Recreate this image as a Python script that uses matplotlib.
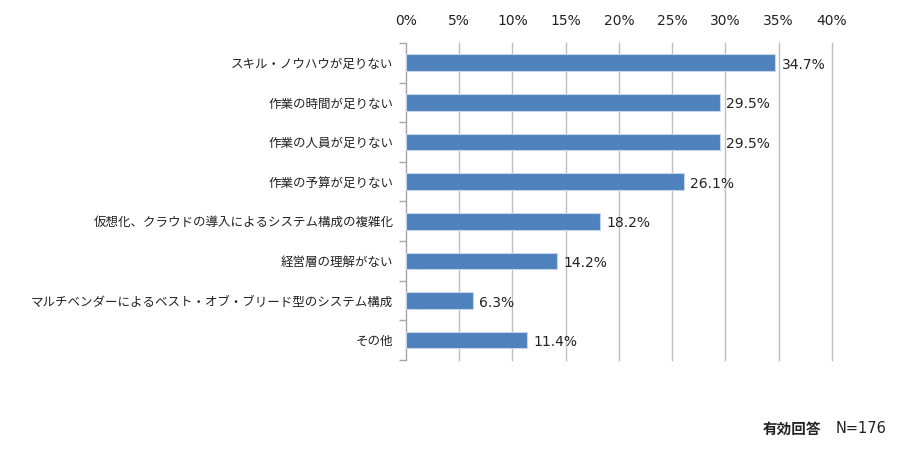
import numpy as np
import matplotlib
matplotlib.use("Agg")
import matplotlib.pyplot as plt
from matplotlib.ticker import FixedLocator, FuncFormatter

plt.rcParams["font.family"] = ["DejaVu Sans", "Noto Sans CJK JP"]

# ── データ ────────────────────────────────────────────
categories = [
    "スキル・ノウハウが足りない",
    "作業の時間が足りない",
    "作業の人員が足りない",
    "作業の予算が足りない",
    "仮想化、クラウドの導入によるシステム構成の複雑化",
    "経営層の理解がない",
    "マルチベンダーによるベスト・オブ・ブリード型のシステム構成",
    "その他",
]
values = [34.7, 29.5, 29.5, 26.1, 18.2, 14.2, 6.3, 11.4]
x_ticks = [0, 5, 10, 15, 20, 25, 30, 35, 40]

BAR_COLOR = "#4F81BD"
GRID_COLOR = "#BFBFBF"
JP = ["Noto Sans CJK JP", "DejaVu Sans"]

fig = plt.figure(figsize=(9, 4.51), dpi=100)
ax = fig.add_axes([0.451, 0.2018, 0.4733, 0.7029])

y = np.arange(len(categories))
ax.barh(y, values, height=0.42, color=BAR_COLOR, edgecolor="#C6D5EA",
        linewidth=0.8, zorder=3)

# 値ラベル
for yi, v in zip(y, values):
    ax.text(v + 0.6, yi + 0.05, f"{v:.1f}%", va="center", ha="left",
            fontsize=10, color="#222222")

ax.set_xlim(0, 40)
ax.set_ylim(len(categories) - 0.5, -0.5)
ax.xaxis.set_major_locator(FixedLocator(x_ticks))
ax.xaxis.set_major_formatter(FuncFormatter(lambda v, p: f"{v:.0f}%"))
ax.xaxis.tick_top()
ax.tick_params(axis="x", length=0, pad=11, labelsize=10, colors="#222222")
ax.grid(axis="x", color=GRID_COLOR, linewidth=1.0, zorder=0)
for gl in ax.get_xgridlines():
    gl.set_clip_on(False)

ax.set_yticks(y)
ax.set_yticklabels(categories, family=JP, fontsize=9, color="#222222")
ax.tick_params(axis="y", which="major", length=0, pad=9)
ax.yaxis.set_minor_locator(FixedLocator(np.arange(-0.5, len(categories), 1)))
ax.tick_params(axis="y", which="minor", length=5, color="#A6A6A6", width=1)

for s in ["top", "right", "bottom"]:
    ax.spines[s].set_visible(False)
ax.spines["left"].set_color("#A6A6A6")

fig.text(0.985, 0.05, "N=176", ha="right", va="center", fontsize=10.5,
         color="#222222")
fig.text(0.912, 0.05, "有効回答", ha="right", va="center", fontsize=10.5,
         fontweight="bold", family=JP, color="#222222")

fig.savefig("out.png", dpi=100, facecolor="white")
